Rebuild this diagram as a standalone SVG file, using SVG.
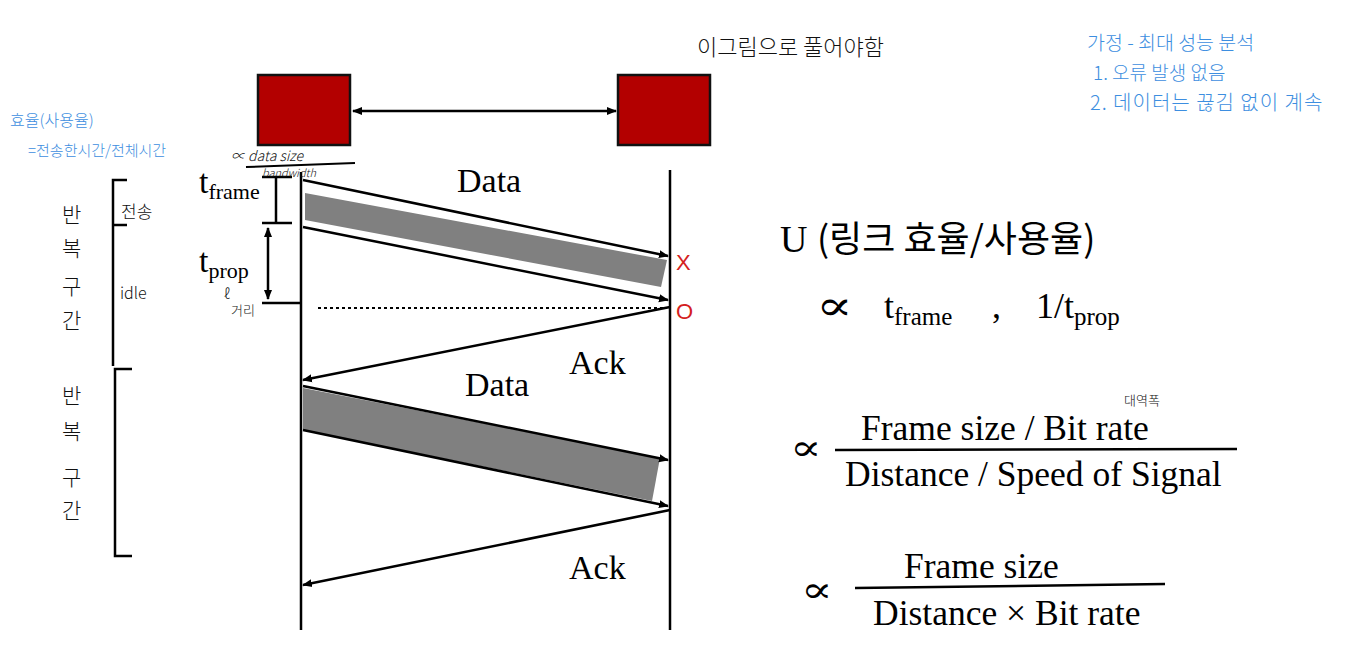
<svg xmlns="http://www.w3.org/2000/svg" width="1346" height="650" viewBox="0 0 1346 650">
<style>
.ln{stroke:#000;stroke-width:2.5;fill:none}
.tm{font-family:"Liberation Serif","Times New Roman",serif;fill:#000}
.pr{font-family:"DejaVu Serif",serif;fill:#000;font-weight:normal}
.kr{font-family:"Noto Sans CJK KR",sans-serif;fill:#000}
.hw{font-family:"Noto Sans CJK KR",sans-serif;fill:#111;font-weight:300}
.bl{font-family:"Noto Sans CJK KR",sans-serif;fill:#3d8ee0;font-weight:300}
.box{fill:#b30000;stroke:#111;stroke-width:2.5}
.band{fill:#808080}
</style>
<defs>
<marker id="ah" viewBox="0 0 10 10" refX="9" refY="5" markerWidth="10" markerHeight="10" markerUnits="userSpaceOnUse" orient="auto-start-reverse">
<path d="M0,1 L10,5 L0,9 Z" fill="#000"/>
</marker>
</defs>
<rect width="1346" height="650" fill="#fff"/>

<g id="sender"><rect class="box" x="258" y="75" width="92" height="70"/></g>
<g id="receiver"><rect class="box" x="618" y="75" width="92" height="70"/></g>

<g id="bands">
<polygon class="band" points="305,193 667,260 661,287 305,220"/>
<polygon class="band" points="303,388 660,458 652,501 303,430"/>
</g>

<g id="connectors">
<line class="ln" x1="353" y1="111" x2="616" y2="111" marker-start="url(#ah)" marker-end="url(#ah)"/>
<line class="ln" x1="301" y1="172" x2="301" y2="630"/>
<line class="ln" x1="670" y1="170" x2="670" y2="630"/>
<line class="ln" x1="303" y1="180" x2="668" y2="256" marker-end="url(#ah)"/>
<line class="ln" x1="303" y1="227" x2="668" y2="300" marker-end="url(#ah)"/>
<line x1="318" y1="308" x2="666" y2="308" stroke="#000" stroke-width="2" stroke-dasharray="3,3"/>
<line class="ln" x1="670" y1="307" x2="303" y2="380" marker-end="url(#ah)"/>
<line class="ln" x1="303" y1="386" x2="668" y2="460" marker-end="url(#ah)"/>
<line class="ln" x1="303" y1="430" x2="668" y2="506" marker-end="url(#ah)"/>
<line class="ln" x1="670" y1="510" x2="303" y2="585" marker-end="url(#ah)"/>
<line class="ln" x1="262" y1="177" x2="292" y2="177"/>
<line class="ln" x1="276" y1="177" x2="276" y2="223"/>
<line class="ln" x1="262" y1="223" x2="292" y2="223"/>
<line class="ln" x1="268" y1="228" x2="268" y2="299" marker-start="url(#ah)" marker-end="url(#ah)"/>
<line class="ln" x1="262" y1="303" x2="300" y2="303"/>
<path class="ln" d="M127,180 H113 V366"/>
<line class="ln" x1="113" y1="225" x2="127" y2="225"/>
<path class="ln" d="M132,369 H115 V556 H132"/>
<line x1="246" y1="167" x2="355" y2="163" stroke="#000" stroke-width="2"/>
<line x1="835" y1="450" x2="1237" y2="449" stroke="#000" stroke-width="2.5"/>
<line x1="855" y1="588" x2="1165" y2="584" stroke="#000" stroke-width="2.5"/>
</g>

<g id="labels">
<text class="tm" x="457" y="192" font-size="34">Data</text>
<text class="tm" x="569" y="374" font-size="34">Ack</text>
<text class="tm" x="465" y="396" font-size="34">Data</text>
<text class="tm" x="569" y="579" font-size="34">Ack</text>
<text x="676" y="270" font-family="Liberation Sans,Arial,sans-serif" font-size="22" fill="#d42020">X</text>
<text x="676" y="319" font-family="Liberation Sans,Arial,sans-serif" font-size="22" fill="#d42020">O</text>
<text class="tm" x="199" y="193" font-size="34">t<tspan font-size="22" dy="6">frame</tspan></text>
<text class="tm" x="199" y="272" font-size="34">t<tspan font-size="22" dy="6">prop</tspan></text>
<text class="hw" x="224" y="299" font-size="14">ℓ</text>
<text class="hw" x="231" y="315" font-size="13">거리</text>
<text class="hw" x="231" y="161" font-size="14" font-style="italic">∝ data size</text>
<text class="hw" x="262" y="177" font-size="11" font-style="italic">bandwidth</text>
</g>

<g id="left-notes">
<text class="bl" x="10" y="126" font-size="16">효율(사용율)</text>
<text class="bl" x="28" y="156" font-size="15">=전송한시간/전체시간</text>
<text class="hw" x="62" y="222" font-size="21">반</text>
<text class="hw" x="62" y="256" font-size="21">복</text>
<text class="hw" x="62" y="294" font-size="21">구</text>
<text class="hw" x="62" y="328" font-size="21">간</text>
<text class="hw" x="62" y="403" font-size="21">반</text>
<text class="hw" x="62" y="439" font-size="21">복</text>
<text class="hw" x="62" y="485" font-size="21">구</text>
<text class="hw" x="62" y="518" font-size="21">간</text>
<text class="hw" x="121" y="218" font-size="17">전송</text>
<text class="hw" x="120" y="299" font-size="16">idle</text>
</g>

<g id="top-notes">
<text class="hw" x="697" y="55" font-size="22">이그림으로 풀어야함</text>
<text class="bl" x="1087" y="50" font-size="19.5">가정 - 최대 성능 분석</text>
<text class="bl" x="1093" y="80" font-size="19">1. 오류 발생 없음</text>
<text class="bl" x="1090" y="110" font-size="20" letter-spacing="1">2. 데이터는 끊김 없이 계속</text>
</g>

<g id="formulas">
<text x="780" y="252" font-size="38"><tspan class="tm">U </tspan><tspan class="kr" font-size="36">(링크 효율/사용율)</tspan></text>
<text class="pr" font-size="42" transform="translate(816,320) scale(1.3,1)">∝</text>
<text class="tm" x="884" y="318" font-size="36">t<tspan font-size="25" dy="7">frame</tspan></text>
<text class="tm" x="992" y="318" font-size="36">,</text>
<text class="tm" x="1036" y="318" font-size="36">1/t<tspan font-size="25" dy="7">prop</tspan></text>
<text class="pr" font-size="36" transform="translate(790,460) scale(1.3,1)">∝</text>
<text class="tm" x="861" y="440" font-size="35.5">Frame size / Bit rate</text>
<text class="hw" x="1124" y="405" font-size="13">대역폭</text>
<text class="tm" x="845" y="486" font-size="35.5">Distance / Speed of Signal</text>
<text class="pr" font-size="36" transform="translate(801,602) scale(1.3,1)">∝</text>
<text class="tm" x="904" y="578" font-size="35.5">Frame size</text>
<text class="tm" x="873" y="625" font-size="35.5">Distance × Bit rate</text>
</g>
</svg>
